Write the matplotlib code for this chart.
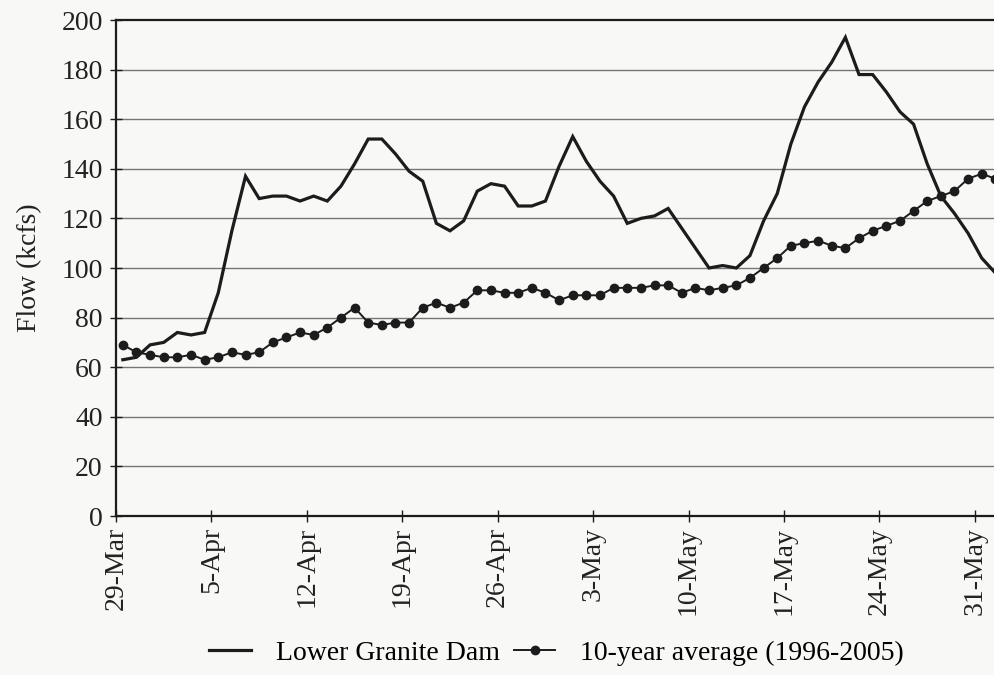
import matplotlib
matplotlib.use("Agg")
import matplotlib.pyplot as plt
from matplotlib.lines import Line2D
import pandas as pd

plt.rcParams['font.family'] = ['Liberation Serif', 'DejaVu Serif']

# ---- data (daily, 29-Mar to 1-Jun 2006) ----
start_date = "2006-03-29"
lower_granite = [63, 64, 69, 70, 74, 73, 74, 90, 115, 137,
                 128, 129, 129, 127, 129, 127, 133, 142, 152, 152,
                 146, 139, 135, 118, 115, 119, 131, 134, 133, 125,
                 125, 127, 141, 153, 143, 135, 129, 118, 120, 121,
                 124, 116, 108, 100, 101, 100, 105, 119, 130, 150,
                 165, 175, 183, 193, 178, 178, 171, 163, 158, 142,
                 129, 122, 114, 104, 98]
ten_year_avg = [69, 66, 65, 64, 64, 65, 63, 64, 66, 65,
                66, 70, 72, 74, 73, 76, 80, 84, 78, 77,
                78, 78, 84, 86, 84, 86, 91, 91, 90, 90,
                92, 90, 87, 89, 89, 89, 92, 92, 92, 93,
                93, 90, 92, 91, 92, 93, 96, 100, 104, 109,
                110, 111, 109, 108, 112, 115, 117, 119, 123, 127,
                129, 131, 136, 138, 136]
tick_dates = pd.date_range("2006-03-29", "2006-05-31", freq="7D")
tick_labels = [f"{d.day}-{d.strftime('%b')}" for d in tick_dates]
y_ticks = list(range(0, 201, 20))
series_names = ["Lower Granite Dam", "10-year average (1996-2005)"]

# daily values plotted mid-day (points sit between the weekly tick marks)
dates = pd.date_range(start_date, periods=len(lower_granite)) + pd.Timedelta(hours=12)

bg = "#f8f8f6"
ink = "#1c1c1c"
fig = plt.figure(figsize=(9.94, 6.75), dpi=100, facecolor=bg)
ax = fig.add_axes([116/994, 159/675, 878/994, 496/675])
ax.set_facecolor(bg)

ax.plot(dates, lower_granite, color=ink, lw=2.3, solid_joinstyle="miter", zorder=3)
ax.plot(dates, ten_year_avg, color=ink, lw=1.4, marker="o", ms=6, zorder=4)

x0 = pd.Timestamp(start_date)
ax.set_xlim(x0, x0 + pd.Timedelta(days=64.4))
ax.set_ylim(0, 200)
ax.set_yticks(y_ticks)
ax.set_xticks(tick_dates)
ax.set_xticklabels(tick_labels, rotation=90, va="top", ha="center")

for y in y_ticks[1:-1]:
    ax.axhline(y, color="#767676", lw=1.0, zorder=1)

for s in ["left", "bottom", "top"]:
    ax.spines[s].set_color(ink)
    ax.spines[s].set_linewidth(1.6)
ax.spines["right"].set_visible(False)

ax.tick_params(axis="y", direction="inout", length=9, width=1, labelsize=20,
               pad=5, colors=ink)
ax.tick_params(axis="x", direction="inout", length=8, width=1, labelsize=20,
               pad=4, colors=ink)
for lab in ax.get_xticklabels() + ax.get_yticklabels():
    lab.set_color("#222222")

ax.set_ylabel("Flow (kcfs)", fontsize=20, color="#222222", labelpad=14)

handles = [Line2D([], [], color=ink, lw=2.3),
           Line2D([], [], color=ink, lw=1.4, marker="o", ms=6)]
fig.legend(handles, series_names, loc="center", bbox_to_anchor=(0.56, 0.032),
           ncol=2, frameon=False, fontsize=20, handlelength=1.5,
           columnspacing=0.5, handletextpad=0.9)

fig.savefig("out.png", dpi=100, facecolor=bg)
